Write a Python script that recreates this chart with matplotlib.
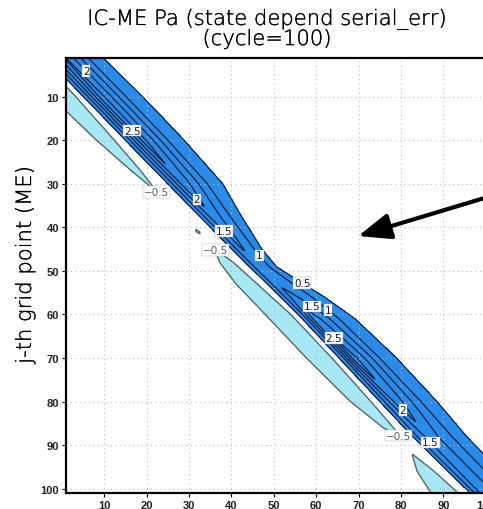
import numpy as np
import matplotlib
matplotlib.use("Agg")
import matplotlib.pyplot as plt
import matplotlib.patheffects as pe

# rows along the diagonal where the band edges were read (j index)
BAND_Y = [1, 10, 20, 30, 37, 45, 49, 52, 56, 61, 70, 80, 88, 95, 101]
# offsets d = i - j of the 0.5 edges and of the maximum
BLUE_LEFT = [-4.9, -4.9, -5.0, -5.0, -5.0, -4.9, -4.8, -4.6, -4.4, -4.3, -4.6, -5.0, -5.3, -5.0, -4.7]
BLUE_RIGHT = [8.7, 9.1, 8.9, 8.0, 5.1, 2.2, 1.6, 3.4, 6.0, 8.2, 9.0, 8.5, 7.5, 7.5, 7.5]
PEAK_D = [-0.3, -0.8, -0.8, -1.2, -1.8, -2.3, -2.6, -2.3, -1.6, -1.3, -1.2, -1.0, -1.3, -1.4, -1.4]
PEAK_V = [2.55, 2.75, 2.7, 2.35, 1.9, 1.55, 1.2, 1.35, 1.7, 2.3, 2.75, 2.3, 1.8, 1.85, 1.9]

# negative band: centre offset and half width at the -0.5 level (<0 = absent)
CYAN_Y = [1, 10, 20, 27, 32, 34, 40, 41, 42, 44, 45, 48, 53, 60, 70, 80, 86, 88, 89, 91, 92, 96, 101]
CYAN_MID = [-9.5, -9.6, -9.7, -9.5, -9.4, -9.3, -8.9, -8.9, -8.9, -8.9, -8.9, -9.2, -9.4,
            -9.0, -9.3, -9.5, -9.0, -8.3, -8.5, -9.0, -9.4, -10.2, -10.7]
CYAN_HALF = [3.2, 2.9, 2.1, 1.1, 0.0, -0.4, -0.3, 0.4, -0.3, -0.1, 0.0, 1.6, 2.5,
             3.0, 3.0, 2.4, 1.2, 0.0, -0.5, -0.3, 0.0, 2.0, 3.2]
CYAN_MIN = -0.85

LEVELS_POS = [0.5, 1.0, 1.5, 2.0, 2.5]
LEVEL_NEG = -0.5
LABEL_LEVELS = [2.0, 2.5, -0.5, 2.0, 1.5, -0.5, 1.0, 0.5, 1.5, 1.0, 2.5, 2.0, -0.5, 1.5]
LABEL_XY = [(5.0, 4.8), (16.8, 17.6), (22.7, 33.5), (31.9, 33.5), (38.5, 40.6),
            (35.7, 44.3), (46.0, 47.0), (57.4, 51.9), (58.5, 59.0), (62.8, 59.0),
            (63.5, 64.7), (80.7, 81.7), (78.8, 88.8), (87.6, 88.8)]

xs = np.arange(1, 101.01, 0.2)
ys = np.arange(1, 101.01, 0.2)
XX, YY = np.meshgrid(xs, ys)
Z = np.zeros_like(XX)

bl = np.interp(ys, BAND_Y, BLUE_LEFT)
br = np.interp(ys, BAND_Y, BLUE_RIGHT)
pk = np.interp(ys, BAND_Y, PEAK_D)
pv = np.interp(ys, BAND_Y, PEAK_V)
cm = np.interp(ys, CYAN_Y, CYAN_MID)
ch = np.interp(ys, CYAN_Y, CYAN_HALF)

for k, y in enumerate(ys):
    d = xs - y
    sh = br[k] - 0.4 * (br[k] - pk[k])
    anchors = [bl[k] - 0.8, bl[k], bl[k] + 1.1, pk[k], sh, br[k], br[k] + 1.5]
    values = [0, 0.5, 1.0, pv[k], 1.0, 0.5, 0]
    blue = np.interp(d, anchors, values, left=0, right=0)
    w = ch[k] + 0.5 / abs(CYAN_MIN)
    cyan = CYAN_MIN * np.clip(w - np.abs(d - cm[k]), 0, 1)
    Z[k] = blue + cyan

fig = plt.figure(figsize=(4.83, 5.10), dpi=100)
ax = fig.add_axes([66 / 483, 16 / 510, 424 / 483, 435.5 / 510])

ax.contourf(XX, YY, Z, levels=[-10, LEVEL_NEG], colors=["#a8e8f4"])
ax.contourf(XX, YY, Z, levels=[LEVELS_POS[0], 10], colors=["#2c8ae8"])

sets = {LEVEL_NEG: ax.contour(XX, YY, Z, levels=[LEVEL_NEG], colors="#4e5e5c",
                              linewidths=0.9, linestyles="solid")}
for lev in LEVELS_POS:
    sets[lev] = ax.contour(XX, YY, Z, levels=[lev], colors="#0b1633", linewidths=0.8)

for lev, xy in zip(LABEL_LEVELS, LABEL_XY):
    txts = ax.clabel(sets[lev], manual=[xy], inline=False, fontsize=7.5,
                     fmt=lambda v: f"{v:g}".replace("-", "\u2212"))
    for t in txts[-1:]:
        t.set_rotation(0)
        t.set_bbox(dict(facecolor="white", edgecolor="#aaaaaa", linewidth=0.3, pad=0.6))

ax.set_xlim(1, 101)
ax.set_ylim(101, 1)
ax.set_xticks(range(10, 101, 10))
ax.set_yticks(range(10, 101, 10))
ax.grid(True, color="#bbbbbb", linestyle=(0, (1, 3)), linewidth=0.8)
ax.tick_params(length=3, width=0.8, labelsize=8, pad=2, labelcolor="#222222")
for lab in ax.get_xticklabels() + ax.get_yticklabels():
    lab.set_fontweight("bold")
    lab.set_family("Liberation Sans")
for s in ax.spines.values():
    s.set_linewidth(1.6)

ax.annotate("", xy=(69.9, 42.0), xytext=(104, 32), annotation_clip=False,
            arrowprops=dict(arrowstyle="-|>,head_length=0.55,head_width=0.22",
                            mutation_scale=36, lw=3, color="black",
                            shrinkA=0, shrinkB=0))

thin = [pe.withStroke(linewidth=0.2, foreground="black")]
fig.text(267 / 483, 1 - 30 / 510, "IC-ME Pa (state depend serial_err)\n(cycle=100)",
         ha="center", va="center", fontsize=15.2, fontweight=200, color="black",
         family=["DejaVu Sans"], linespacing=0.95, path_effects=thin)
fig.text(25 / 483, 1 - 266 / 510, "j-th grid point (ME)", rotation=90,
         ha="center", va="center", fontsize=15.2, fontweight=200, color="black",
         family=["DejaVu Sans"], path_effects=thin)

fig.savefig("out.png", dpi=100)
